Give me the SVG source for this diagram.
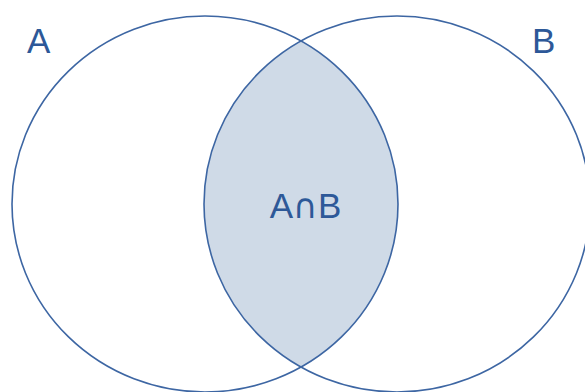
<svg xmlns="http://www.w3.org/2000/svg" width="585" height="392" viewBox="0 0 585 392">
<style>
.set{fill:none;stroke:#3d66a3;stroke-width:1.6}
.lbl{font-family:"Liberation Sans",Arial,sans-serif;font-size:35px;fill:#2d5898}
</style>
<rect width="585" height="392" fill="#ffffff"/>
<g id="intersection">
<path d="M301,40.9 A193,188 0 0,0 301,367.1 A193,188 0 0,0 301,40.9 Z" fill="#cfdae7"/>
<text class="lbl" x="305.5" y="218" text-anchor="middle" font-size="37px">A<tspan font-family="DejaVu Sans" font-size="34px">∩</tspan>B</text>
</g>
<g id="setA">
<ellipse class="set" cx="205" cy="204" rx="193" ry="188"/>
<text class="lbl" x="27" y="53">A</text>
</g>
<g id="setB">
<ellipse class="set" cx="397" cy="204" rx="193" ry="188"/>
<text class="lbl" x="532" y="53">B</text>
</g>
</svg>
